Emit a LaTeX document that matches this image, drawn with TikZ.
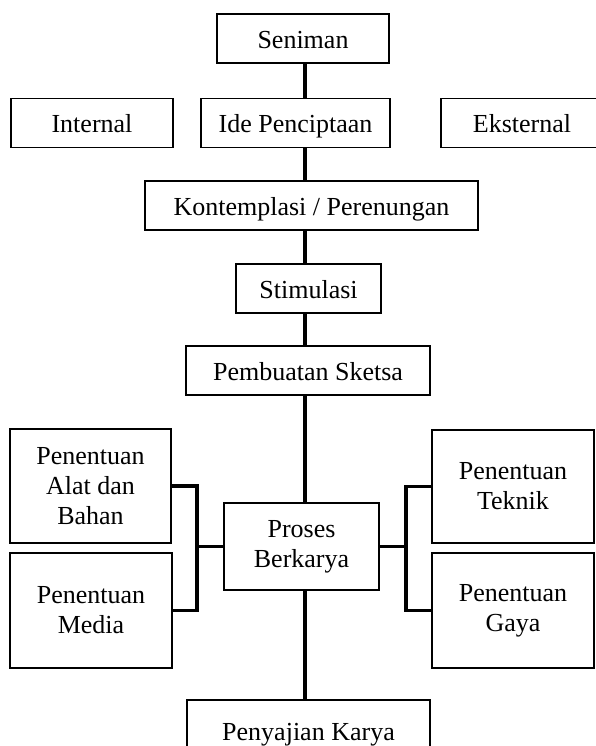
\documentclass[tikz,border=0pt]{standalone}
\usepackage{fontspec}
\setmainfont{Liberation Serif}
\begin{document}
\begin{tikzpicture}[x=1pt,y=-1pt,
    box/.style={draw, line width=1.8pt, inner sep=0pt, minimum height=49pt,
      text height=22pt, text depth=2pt, font=\fontsize{26}{30}\selectfont},
    tallbox/.style={draw, line width=1.8pt, inner sep=0pt, align=center,
      font=\fontsize{26}{30}\selectfont},
    link/.style={line width=3.2pt}]
  \useasboundingbox (0,0) rectangle (596,746);
  % top row
  \node[box, minimum width=172pt] (seniman) at (303,38.5) {Seniman};
  \node[box, minimum width=162pt] (internal) at (92,123) {Internal};
  \node[box, minimum width=189pt] (ide) at (295.5,123) {Ide Penciptaan};
  \node[box, minimum width=162pt] (eksternal) at (522,123) {Eksternal};
  \node[box, minimum width=333pt] (kontemplasi) at (311.5,205.5) {Kontemplasi / Perenungan};
  \node[box, minimum width=145pt] (stimulasi) at (308.5,288.5) {Stimulasi};
  \node[box, minimum width=244pt] (sketsa) at (308,370.5) {Pembuatan Sketsa};
  % side boxes
  \node[tallbox, minimum width=161pt, minimum height=114pt] (alat) at (90.5,486) {Penentuan\\Alat dan\\Bahan};
  \node[tallbox, minimum width=162pt, minimum height=115pt] (media) at (91,610.5) {Penentuan\\Media};
  \node[tallbox, minimum width=155pt, minimum height=87pt] (proses) at (301.5,546.5) {Proses\\Berkarya};
  \node[tallbox, minimum width=162pt, minimum height=113pt] (teknik) at (513,486.5) {Penentuan\\Teknik};
  \node[tallbox, minimum width=162pt, minimum height=115pt] (gaya) at (513,610.5) {Penentuan\\Gaya};
  \node[box, minimum width=243pt, minimum height=60pt] (penyajian) at (308.5,730) {Penyajian Karya};
  % connectors
  \coordinate (spine) at (305,0);
  \foreach \a/\b in {seniman/ide, ide/kontemplasi, kontemplasi/stimulasi,
      stimulasi/sketsa, sketsa/proses, proses/penyajian}
    \draw[link] (\a.south -| spine) -- (\b.north -| spine);
  \coordinate (lb) at (197,546.5);
  \coordinate (rb) at (406,546.5);
  \draw[link] (alat.east) -| (lb) |- (media.east);
  \draw[link] (proses.west) -- (lb);
  \draw[link] (teknik.west) -| (rb) |- (gaya.west);
  \draw[link] (proses.east) -- (rb);
\end{tikzpicture}
\end{document}
